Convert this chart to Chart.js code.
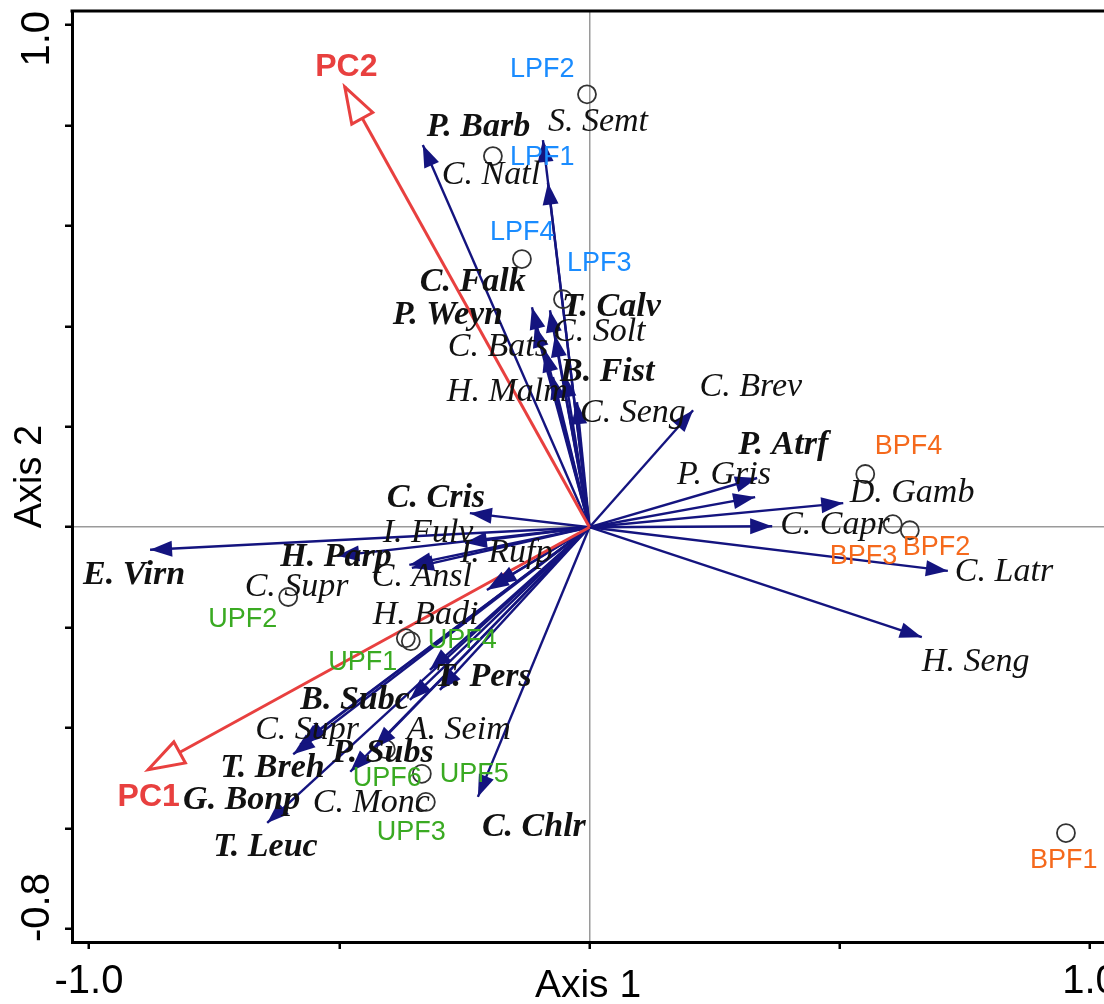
<!DOCTYPE html>
<html>
<head>
<meta charset="utf-8">
<script src="https://cdn.jsdelivr.net/npm/chart.js@4.4.1/dist/chart.umd.min.js"></script>
<style>
  html, body { margin: 0; padding: 0; background: #fff; }
  #wrap { width: 1104px; height: 1004px; }
</style>
</head>
<body>
<div id="wrap"><canvas id="biplot" width="1104" height="1004"></canvas></div>
<script>
// species arrows (tips) and where their names sit
const speciesNames = ['P. Barb', 'S. Semt', 'C. Natl', 'C. Falk', 'P. Weyn', 'T. Calv', 'C. Solt', 'C. Bats',
  'B. Fist', 'H. Malm', 'C. Seng', 'C. Brev', 'P. Atrf', 'P. Gris', 'D. Gamb', 'C. Capr', 'C. Latr', 'H. Seng',
  'C. Cris', 'I. Fulv', 'I. Rufp', 'H. Parp', 'E. Virn', 'C. Supr', 'C. Ansl', 'H. Badi', 'B. Subc', 'T. Pers',
  'C. Supr', 'A. Seim', 'P. Subs', 'T. Breh', 'G. Bonp', 'C. Monc', 'T. Leuc', 'C. Chlr'];
const speciesX = [-0.333, -0.093, -0.083, -0.115, -0.109, -0.079, -0.069, -0.089,
  -0.049, -0.073, -0.025, 0.207, 0.335, 0.331, 0.507, 0.365, 0.716, 0.664,
  -0.239, -0.249, -0.190, -0.504, -0.878, -0.360, -0.355, -0.205, -0.359, -0.319,
  -0.572, -0.299, -0.478, -0.592, -0.578, -0.430, -0.644, -0.223];
const speciesY = [0.761, 0.771, 0.686, 0.438, 0.402, 0.432, 0.383, 0.353,
  0.303, 0.299, 0.249, 0.233, 0.098, 0.060, 0.048, 0.002, -0.087, -0.219,
  0.028, -0.031, -0.115, -0.057, -0.045, -0.075, -0.081, -0.125, -0.344, -0.284,
  -0.427, -0.324, -0.487, -0.452, -0.433, -0.440, -0.589, -0.537];
const speciesLabelX = [-0.325, -0.083, -0.295, -0.339, -0.393, -0.055, -0.073, -0.283,
  -0.059, -0.285, -0.019, 0.220, 0.297, 0.175, 0.520, 0.381, 0.730, 0.664,
  -0.405, -0.413, -0.259, -0.618, -1.012, -0.689, -0.435, -0.433, -0.578, -0.309,
  -0.668, -0.365, -0.514, -0.738, -0.812, -0.553, -0.752, -0.215];
const speciesLabelY = [0.797, 0.807, 0.701, 0.488, 0.422, 0.438, 0.389, 0.359,
  0.309, 0.269, 0.227, 0.279, 0.163, 0.104, 0.068, 0.004, -0.089, -0.269,
  0.058, -0.011, -0.051, -0.059, -0.095, -0.120, -0.100, -0.175, -0.344, -0.298,
  -0.403, -0.403, -0.450, -0.479, -0.543, -0.549, -0.637, -0.597];
const boldSpecies = ['P. Barb', 'C. Falk', 'P. Weyn', 'T. Calv', 'B. Fist', 'P. Atrf', 'C. Cris', 'H. Parp',
  'E. Virn', 'B. Subc', 'T. Pers', 'P. Subs', 'T. Breh', 'G. Bonp', 'T. Leuc', 'C. Chlr'];

// sample sites
const siteNames = ['LPF1', 'LPF2', 'LPF3', 'LPF4', 'BPF1', 'BPF2', 'BPF3', 'BPF4',
  'UPF1', 'UPF2', 'UPF3', 'UPF4', 'UPF5', 'UPF6'];
const siteX = [-0.193, -0.005, -0.053, -0.135, 0.952, 0.640, 0.606, 0.551,
  -0.367, -0.602, -0.327, -0.357, -0.335, -0.407];
const siteY = [0.739, 0.862, 0.454, 0.534, -0.609, -0.006, 0.006, 0.106,
  -0.221, -0.139, -0.547, -0.227, -0.491, -0.442];
const siteLabelX = [-0.159, -0.159, -0.045, -0.199, 0.880, 0.626, 0.480, 0.570,
  -0.522, -0.762, -0.425, -0.323, -0.299, -0.473];
const siteLabelY = [0.737, 0.912, 0.526, 0.587, -0.663, -0.041, -0.059, 0.160,
  -0.270, -0.184, -0.609, -0.226, -0.493, -0.500];

// environmental axes
const pcNames = ['PC1', 'PC2'];
const pcX = [-0.882, -0.489];
const pcY = [-0.483, 0.877];
const pcLabelX = [-0.943, -0.548];
const pcLabelY = [-0.538, 0.917];

const xTicks = [-1, -0.5, 0, 0.5, 1];
const xTickLabels = ['-1.0', '', '', '', '1.0'];
const yTicks = [-0.8, -0.6, -0.4, -0.2, 0, 0.2, 0.4, 0.6, 0.8, 1.0];
const yTickLabels = ['-0.8', '', '', '', '', '', '', '', '', '1.0'];

const NAVY = '#14147f';
const RED = '#e8403f';
const siteColors = { L: '#1a8cff', B: '#f5691c', U: '#3aaa22' };

const datasets = [];

speciesNames.forEach((nome, i) => {
  datasets.push({
    type: 'line',
    data: [{ x: 0, y: 0 }, { x: speciesX[i], y: speciesY[i] }],
    borderColor: NAVY,
    borderWidth: 2.4,
    pointRadius: 0,
    arrow: 'solid',
    order: 2
  });
});

pcNames.forEach((nome, i) => {
  datasets.push({
    type: 'line',
    data: [{ x: 0, y: 0 }, { x: pcX[i], y: pcY[i] }],
    borderColor: RED,
    borderWidth: 3,
    pointRadius: 0,
    arrow: 'hollow',
    order: 1
  });
});

datasets.push({
  type: 'scatter',
  data: siteX.map((x, i) => ({ x, y: siteY[i] })),
  pointRadius: 9,
  pointHoverRadius: 9,
  borderWidth: 1.8,
  borderColor: '#333',
  backgroundColor: 'rgba(0,0,0,0)',
  order: 0
});

const setaPlugin = {
  id: 'setas',
  afterDatasetsDraw(chart) {
    const ctx = chart.ctx;
    chart.data.datasets.forEach((ds, i) => {
      if (!ds.arrow) return;
      const pts = chart.getDatasetMeta(i).data;
      const a = pts[0], b = pts[1];
      const ang = Math.atan2(b.y - a.y, b.x - a.x);
      const len = ds.arrow === 'hollow' ? 36 : 22;
      const half = ds.arrow === 'hollow' ? 12 : 8;
      const bx = b.x - len * Math.cos(ang);
      const by = b.y - len * Math.sin(ang);
      const px = -Math.sin(ang) * half;
      const py = Math.cos(ang) * half;
      ctx.save();
      ctx.beginPath();
      ctx.moveTo(b.x, b.y);
      ctx.lineTo(bx + px, by + py);
      ctx.lineTo(bx - px, by - py);
      ctx.closePath();
      if (ds.arrow === 'hollow') {
        ctx.fillStyle = '#fff';
        ctx.fill();
        ctx.strokeStyle = RED;
        ctx.lineWidth = 3;
        ctx.lineJoin = 'miter';
        ctx.stroke();
      } else {
        ctx.fillStyle = NAVY;
        ctx.fill();
      }
      ctx.restore();
    });
  }
};

const rotulosPlugin = {
  id: 'rotulos',
  afterDraw(chart) {
    const ctx = chart.ctx;
    const sx = chart.scales.x, sy = chart.scales.y;
    const area = chart.chartArea;
    ctx.save();
    ctx.textBaseline = 'middle';
    ctx.textAlign = 'left';

    speciesNames.forEach((nome, i) => {
      const negrito = boldSpecies.includes(nome);
      ctx.font = (negrito ? 'italic bold ' : 'italic ') + '34px "Liberation Serif", "Times New Roman", serif';
      ctx.fillStyle = '#111';
      ctx.fillText(nome, sx.getPixelForValue(speciesLabelX[i]), sy.getPixelForValue(speciesLabelY[i]));
    });

    ctx.font = '27px "Liberation Sans", Arial, sans-serif';
    siteNames.forEach((nome, i) => {
      ctx.fillStyle = siteColors[nome[0]];
      ctx.fillText(nome, sx.getPixelForValue(siteLabelX[i]), sy.getPixelForValue(siteLabelY[i]));
    });

    ctx.font = 'bold 32px "Liberation Sans", Arial, sans-serif';
    ctx.fillStyle = RED;
    pcNames.forEach((nome, i) => {
      ctx.fillText(nome, sx.getPixelForValue(pcLabelX[i]), sy.getPixelForValue(pcLabelY[i]));
    });

    // top frame line
    ctx.strokeStyle = '#000';
    ctx.lineWidth = 3;
    ctx.beginPath();
    ctx.moveTo(area.left - 1.5, area.top);
    ctx.lineTo(area.right, area.top);
    ctx.stroke();

    // rotated y tick labels, kept inside the axis span
    ctx.font = '40px "Liberation Sans", Arial, sans-serif';
    ctx.fillStyle = '#000';
    ctx.textAlign = 'center';
    yTicks.forEach((v, i) => {
      const txt = yTickLabels[i];
      if (!txt) return;
      const w = ctx.measureText(txt).width;
      let y = sy.getPixelForValue(v);
      y = Math.max(area.top + w / 2, Math.min(area.bottom - w / 2, y));
      ctx.save();
      ctx.translate(38, y);
      ctx.rotate(-Math.PI / 2);
      ctx.fillText(txt, 0, 0);
      ctx.restore();
    });
    ctx.restore();
  }
};

const linhaZero = (c) => (c.tick && c.tick.value === 0 ? '#9a9a9a' : 'rgba(0,0,0,0)');

new Chart(document.getElementById('biplot'), {
  type: 'scatter',
  data: { datasets },
  options: {
    responsive: false,
    animation: false,
    events: [],
    layout: { autoPadding: false, padding: { top: 11, right: 0, left: 0, bottom: 0 } },
    plugins: { legend: { display: false }, tooltip: { enabled: false } },
    scales: {
      x: {
        type: 'linear',
        min: -1.034,
        max: 1.028,
        afterBuildTicks: (s) => { s.ticks = xTicks.map(v => ({ value: v })); },
        afterFit: (s) => { s.height = 62; s.paddingLeft = 0; s.paddingRight = 0; },
        ticks: {
          callback: (v) => xTickLabels[xTicks.indexOf(v)] || '',
          font: { family: '"Liberation Sans", Arial, sans-serif', size: 40 },
          color: '#000',
          padding: 9,
          maxRotation: 0,
          autoSkip: false
        },
        grid: { color: linhaZero, lineWidth: 1.5, tickColor: '#000', tickWidth: 2.5, tickLength: 7 },
        border: { color: '#000', width: 3 },
        title: {
          display: true,
          text: 'Axis 1',
          color: '#000',
          font: { family: '"Liberation Sans", Arial, sans-serif', size: 39, lineHeight: 0.9 },
          padding: { top: 0, bottom: 0 }
        }
      },
      y: {
        type: 'linear',
        min: -0.826,
        max: 1.028,
        afterBuildTicks: (s) => { s.ticks = yTicks.map(v => ({ value: v })); },
        afterFit: (s) => { s.width = 72; s.paddingTop = 0; s.paddingBottom = 0; },
        ticks: { display: false },
        grid: { color: linhaZero, lineWidth: 1.5, tickColor: '#000', tickWidth: 2.5, tickLength: 7 },
        border: { color: '#000', width: 3 },
        title: {
          display: true,
          text: 'Axis 2',
          color: '#000',
          font: { family: '"Liberation Sans", Arial, sans-serif', size: 38, lineHeight: 1 },
          padding: { top: 12, bottom: 0 }
        }
      }
    }
  },
  plugins: [setaPlugin, rotulosPlugin]
});
</script>
</body>
</html>
